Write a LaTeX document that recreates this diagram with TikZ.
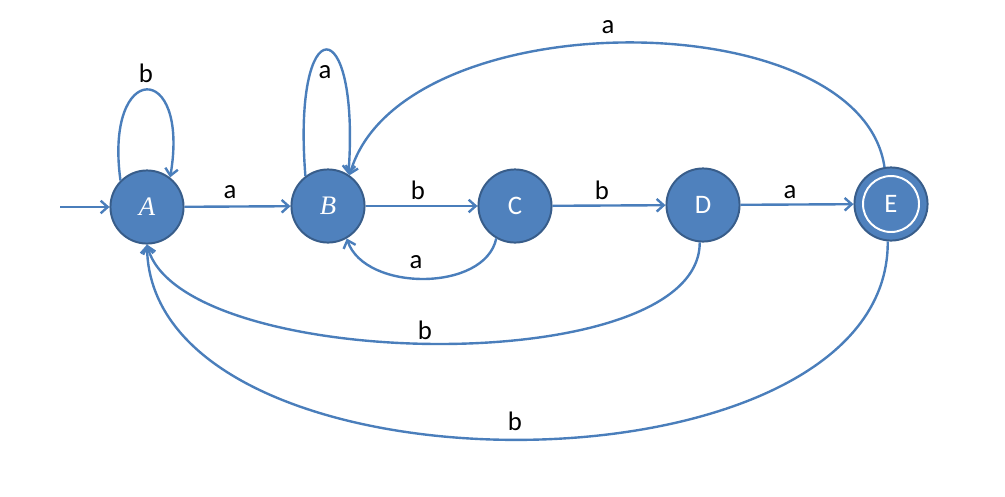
\documentclass[tikz,border=0pt]{standalone}
\usepackage{fontspec}
\setmainfont{Carlito}
\newfontfamily\italfont{Liberation Serif}
\usepackage{tikz}
\usetikzlibrary{arrows.meta}
\definecolor{statefill}{RGB}{79,129,189}
\definecolor{stateline}{RGB}{56,93,138}
\definecolor{edgeline}{RGB}{74,126,187}
\begin{document}
\begin{tikzpicture}[x=0.025cm,y=0.025cm]
\tikzstyle{every node}+=[inner sep=0pt]
\tikzstyle{state}=[circle,draw=stateline,fill=statefill,line width=1.4pt,minimum size=52pt,text=white,font=\fontsize{19}{22}\selectfont]
\tikzstyle{edge}=[edgeline,line width=1.7pt,-{Straight Barb[length=5pt,width=9pt]}]
\tikzstyle{lbl}=[font=\fontsize{19}{22}\selectfont]
\useasboundingbox (0,0) rectangle (1005,-496);
\node [state] (A) at (147,-207) {\italfont\itshape A};
\node [state] (B) at (328,-206) {\italfont\itshape B};
\node [state] (C) at (515,-206) {C};
\node [state] (D) at (703,-205) {D};
\node [state] (E) at (891,-204) {E};
\draw [white,line width=1.4pt] (E) circle (28);
\coordinate (start) at (60,-207);
\draw [edge] (start) -- (A);
% loops
\draw [edge] (A.135) .. controls (104,-60) and (190,-60) .. (A.52);
\node [lbl] at (146,-73) {b};
\draw [edge] (B.127) .. controls (292,-8) and (360,-8) .. (B.57);
\node [lbl] at (325,-72) {a};
% straight edges
\draw [edge] (A) -- (B);
\node [lbl] at (230,-192) {a};
\draw [edge] (B) -- (C);
\node [lbl] at (418,-190) {b};
\draw [edge] (C) -- (D);
\node [lbl] at (602,-190) {b};
\draw [edge] (D) -- (E);
\node [lbl] at (790,-192) {a};
% curved edges
\draw [edge] (E.100) .. controls (860,0) and (400,0) .. (B.55);
\node [lbl] at (608,-27) {a};
\draw [edge] (C.240) .. controls (485,-292) and (365,-292) .. (B.-60);
\node [lbl] at (416,-262) {a};
\draw [edge] (D.265) .. controls (700,-382) and (180,-372) .. (A.-90);
\node [lbl] at (425,-330) {b};
\draw [edge] (E.-95) .. controls (890,-505) and (150,-505) .. (A.-90);
\node [lbl] at (515,-421) {b};
\end{tikzpicture}
\end{document}
